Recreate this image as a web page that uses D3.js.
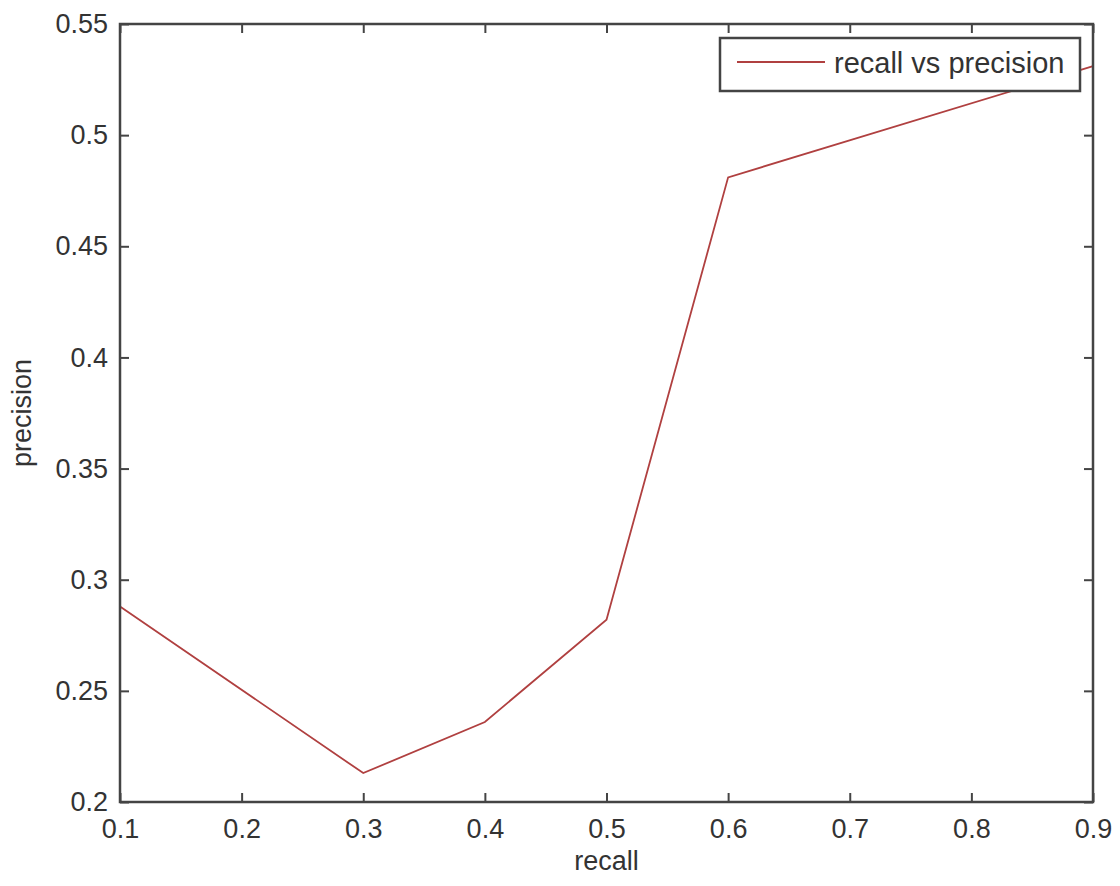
<!DOCTYPE html>
<html>
<head>
<meta charset="utf-8">
<script src="https://cdn.jsdelivr.net/npm/d3@7"></script>
<style>
  body { margin: 0; background: #fff; }
  text { font-family: "Liberation Sans", Arial, sans-serif; fill: #333; }
</style>
</head>
<body>
<div id="canvas"></div>
<script>
const recall = [0.1, 0.3, 0.4, 0.5, 0.6, 0.9];
const precision = [0.288, 0.213, 0.236, 0.282, 0.481, 0.531];
const xTicks = [0.1, 0.2, 0.3, 0.4, 0.5, 0.6, 0.7, 0.8, 0.9];
const yTicks = [0.2, 0.25, 0.3, 0.35, 0.4, 0.45, 0.5, 0.55];
const seriesName = "recall vs precision";

const canvas = d3.select("#canvas");
const width = 1120;
const height = 886;
const margin = { top: 24, left: 120, bottom: 84, right: 27 };
const iwidth = width - margin.left - margin.right;
const iheight = height - margin.top - margin.bottom;

const svg = canvas.append("svg")
    .attr("width", width)
    .attr("height", height);

svg.append("rect").attr("width", width).attr("height", height).attr("fill", "#fff");

const g = svg.append("g").attr("transform", `translate(${margin.left},${margin.top})`);

const x = d3.scaleLinear().domain([0.1, 0.9]).range([0, iwidth]);
const y = d3.scaleLinear().domain([0.2, 0.55]).range([iheight, 0]);

const data = recall.map((r, i) => ({ r: r, p: precision[i] }));

// line
g.append("path")
    .datum(data)
    .attr("fill", "none")
    .attr("stroke", "#b04040")
    .attr("stroke-width", 1.8)
    .attr("d", d3.line().x(d => x(d.r)).y(d => y(d.p)));

// axes, matlab style: ticks inside, mirrored
const tickLen = 9;
const fmt = d => String(+d.toFixed(2));

const xb = g.append("g").attr("transform", `translate(0,${iheight})`)
    .call(d3.axisBottom(x).tickValues(xTicks).tickSize(-tickLen).tickPadding(tickLen + 8).tickFormat(fmt));
const xt = g.append("g")
    .call(d3.axisTop(x).tickValues(xTicks).tickSize(-tickLen).tickFormat(""));
const yl = g.append("g")
    .call(d3.axisLeft(y).tickValues(yTicks).tickSize(-tickLen).tickPadding(tickLen + 3).tickFormat(fmt));
const yr = g.append("g").attr("transform", `translate(${iwidth},0)`)
    .call(d3.axisRight(y).tickValues(yTicks).tickSize(-tickLen).tickFormat(""));

[xb, xt, yl, yr].forEach(a => {
    a.select(".domain").remove();
    a.selectAll(".tick line").attr("stroke", "#444").attr("stroke-width", 2);
    a.selectAll("text").style("font-size", "27px").attr("fill", "#333");
});

g.append("rect")
    .attr("width", iwidth)
    .attr("height", iheight)
    .attr("fill", "none")
    .attr("stroke", "#444")
    .attr("stroke-width", 2.5);

// axis labels
svg.append("text")
    .attr("x", margin.left + iwidth / 2)
    .attr("y", 870)
    .attr("text-anchor", "middle")
    .style("font-size", "27px")
    .text("recall");

svg.append("text")
    .attr("transform", `translate(31,${margin.top + iheight / 2}) rotate(-90)`)
    .attr("text-anchor", "middle")
    .style("font-size", "27px")
    .text("precision");

// legend
const lg = svg.append("g").attr("transform", "translate(720,38)");
lg.append("rect")
    .attr("width", 360)
    .attr("height", 53)
    .attr("fill", "#fff")
    .attr("stroke", "#444")
    .attr("stroke-width", 2.5);
lg.append("line")
    .attr("x1", 17).attr("x2", 105)
    .attr("y1", 24).attr("y2", 24)
    .attr("stroke", "#b04040")
    .attr("stroke-width", 1.8);
lg.append("text")
    .attr("x", 114)
    .attr("y", 35)
    .style("font-size", "29px")
    .text(seriesName);
</script>
</body>
</html>
